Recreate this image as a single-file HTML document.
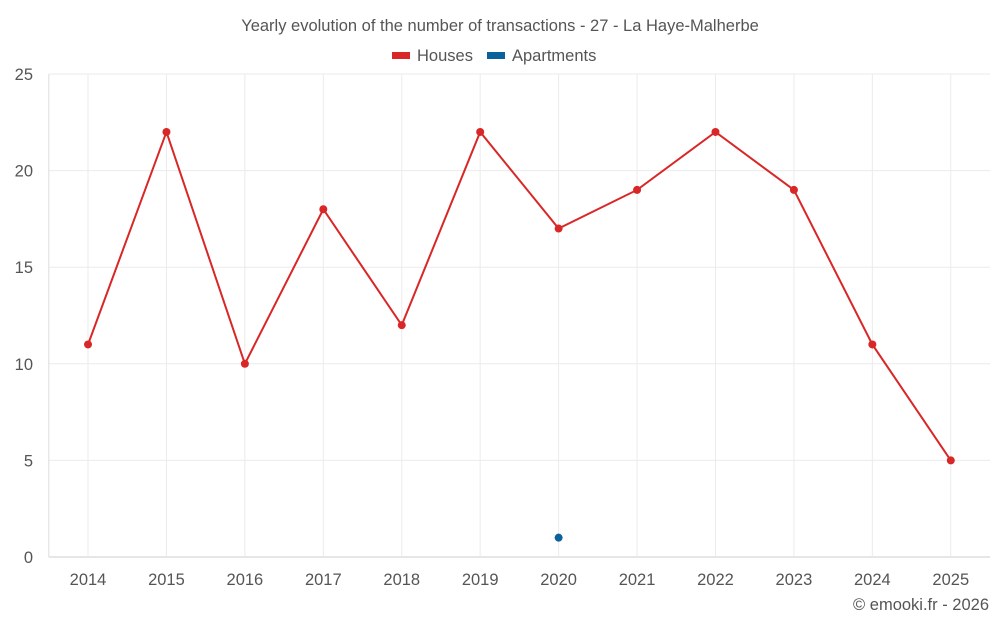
<!DOCTYPE html>
<html><head><meta charset="utf-8"><style>
body{margin:0;background:#fff;font-family:"Liberation Sans",sans-serif;}
svg{display:block}
text{font-family:"Liberation Sans",sans-serif;fill:#555}
</style></head><body>
<svg id="chart" width="1000" height="625">
<text x="500" y="31" text-anchor="middle" font-size="16.5">Yearly evolution of the number of transactions - 27 - La Haye-Malherbe</text>
<g>
<g><rect x="392" y="52" width="18" height="7" fill="#d92626"/><text x="417" y="61" font-size="16.5">Houses</text></g>
<g><rect x="487" y="52" width="18" height="7" fill="#0b629b"/><text x="512" y="61" font-size="16.5">Apartments</text></g>
</g>
<g id="grid"></g><g id="axes"></g><g id="marks"></g>
<text x="989" y="610" text-anchor="end" font-size="16.5">© emooki.fr - 2026</text>
</svg>
<script>
const categories=["2014","2015","2016","2017","2018","2019","2020","2021","2022","2023","2024","2025"];
const houses=[11,22,10,18,12,22,17,19,22,19,11,5];
const apartments=[null,null,null,null,null,null,1,null,null,null,null,null];
const yTicks=[0,5,10,15,20,25];
const NS="http://www.w3.org/2000/svg";
const L=48.8,R=990,T=74,B=557,yMax=25;
const bw=(R-L)/categories.length;
const x=i=>L+bw*(i+0.5);
const y=v=>B-(v/yMax)*(B-T);
function mk(t,a,p){const e=document.createElementNS(NS,t);for(const k in a)e.setAttribute(k,a[k]);p.appendChild(e);return e;}
const g=document.getElementById('grid'),ax=document.getElementById('axes'),m=document.getElementById('marks');
yTicks.forEach(v=>{
 const l=mk('line',{x1:L,x2:R,y1:y(v),y2:y(v),stroke:v===0?'#ccc':'#ebebeb','stroke-width':1},g);
 
 
 const t=mk('text',{x:33,y:y(v)+6,'text-anchor':'end','font-size':16.5},ax);
 t.textContent=v;
 
 
});
categories.forEach((c,i)=>{
 const l=mk('line',{x1:x(i),x2:x(i),y1:T,y2:B,stroke:'#ebebeb','stroke-width':1},g);
 
 
 const t=mk('text',{x:x(i),y:585,'text-anchor':'middle','font-size':16.5},ax);
 t.textContent=c;
 
 
});
const al=mk('line',{x1:L,x2:L,y1:T,y2:B,stroke:'#ddd'},ax);


function series(vals,color,name){
 let d='';let pen=false;
 vals.forEach((v,i)=>{if(v==null){pen=false;return;}d+=(pen?'L':'M')+x(i)+' '+y(v)+' ';pen=true;});
 if(d.split('L').length>1){const p=mk('path',{d:d,fill:'none',stroke:color,'stroke-width':2},m);
 
 }
 vals.forEach((v,i)=>{if(v==null)return;
  const c=mk('circle',{cx:x(i),cy:y(v),r:4,fill:color},m);
  
  });
}
series(houses,'#d92626','houses');
series(apartments,'#0b629b','apartments');
</script>
</body></html>
